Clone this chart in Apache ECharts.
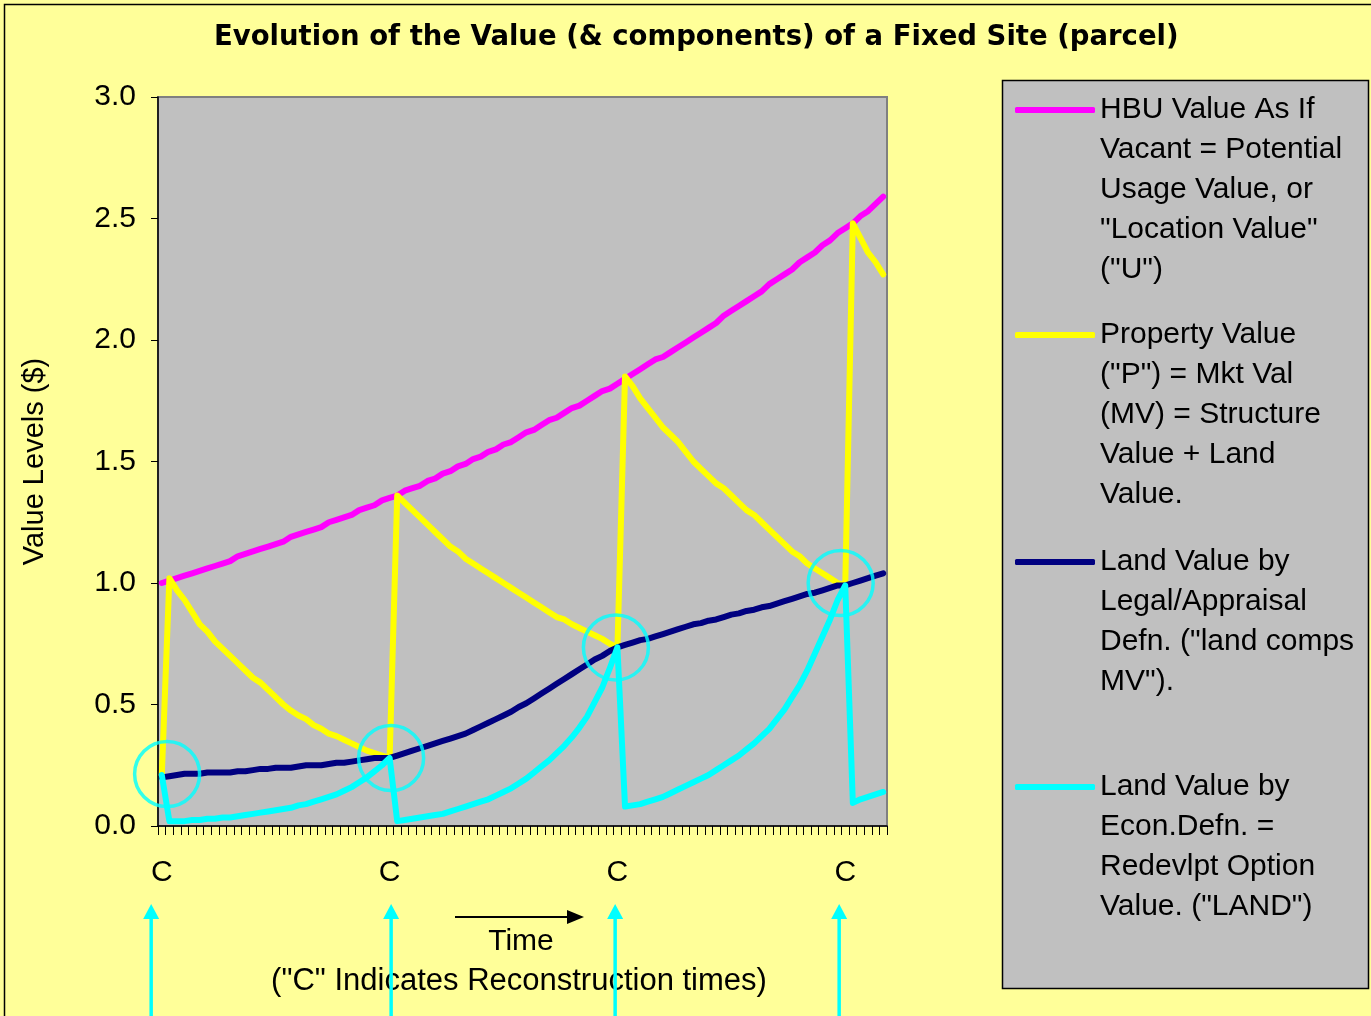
<!DOCTYPE html>
<html>
<head>
<meta charset="utf-8">
<script src="https://cdn.jsdelivr.net/npm/echarts@6/dist/echarts.min.js"></script>
<style>
html,body{margin:0;padding:0;background:#FFFF99;}
#chart{width:1371px;height:1016px;}
</style>
</head>
<body>
<div id="chart"></div>
<script>
// ---------------- DATA ----------------
const periods = Array.from({length: 96}, (_, i) => i);      // time periods (categories)
const reconstructionPeriods = [0, 30, 60, 90];             // "C" tick labels
const reconstructionLabel = 'C';
const yTicks = [0, 0.5, 1.0, 1.5, 2.0, 2.5, 3.0];

const hbuValue = [
  1.00, 1.01, 1.02, 1.03, 1.04, 1.05, 1.06, 1.07, 1.08, 1.09,
  1.11, 1.12, 1.13, 1.14, 1.15, 1.16, 1.17, 1.19, 1.20, 1.21,
  1.22, 1.23, 1.25, 1.26, 1.27, 1.28, 1.30, 1.31, 1.32, 1.34,
  1.35, 1.36, 1.38, 1.39, 1.40, 1.42, 1.43, 1.45, 1.46, 1.48,
  1.49, 1.51, 1.52, 1.54, 1.55, 1.57, 1.58, 1.60, 1.62, 1.63,
  1.65, 1.67, 1.68, 1.70, 1.72, 1.73, 1.75, 1.77, 1.79, 1.80,
  1.82, 1.84, 1.86, 1.88, 1.90, 1.92, 1.93, 1.95, 1.97, 1.99,
  2.01, 2.03, 2.05, 2.07, 2.10, 2.12, 2.14, 2.16, 2.18, 2.20,
  2.23, 2.25, 2.27, 2.29, 2.32, 2.34, 2.36, 2.39, 2.41, 2.44,
  2.46, 2.48, 2.51, 2.53, 2.56, 2.59
];
const propertyValue = [
  0.21,
  1.02, 0.97, 0.93, 0.88, 0.83, 0.80, 0.76, 0.73, 0.70, 0.67,
  0.64, 0.61, 0.59, 0.56, 0.53, 0.50, 0.475, 0.455, 0.44, 0.415,
  0.40, 0.38, 0.37, 0.355, 0.34, 0.325, 0.31, 0.30, 0.29, 0.28,
  1.36, 1.33, 1.30, 1.27, 1.24, 1.21, 1.18, 1.15, 1.13, 1.10,
  1.08, 1.06, 1.04, 1.02, 1.00, 0.98, 0.96, 0.94, 0.92, 0.90,
  0.88, 0.86, 0.85, 0.83, 0.815, 0.80, 0.785, 0.77, 0.75, 0.735,
  1.85, 1.81, 1.76, 1.72, 1.68, 1.64, 1.61, 1.58, 1.54, 1.50,
  1.47, 1.44, 1.41, 1.39, 1.36, 1.33, 1.30, 1.28, 1.25, 1.22,
  1.19, 1.16, 1.13, 1.11, 1.08, 1.06, 1.04, 1.02, 1.00, 0.99,
  2.48, 2.42, 2.36, 2.32, 2.27
];
const landLegal = [
  0.20, 0.205, 0.21, 0.215, 0.215, 0.215, 0.22, 0.22, 0.22, 0.22,
  0.225, 0.225, 0.23, 0.235, 0.235, 0.24, 0.24, 0.24, 0.245, 0.25,
  0.25, 0.25, 0.255, 0.26, 0.26, 0.265, 0.27, 0.275, 0.28, 0.28,
  0.28, 0.29, 0.30, 0.31, 0.32, 0.33, 0.34, 0.35, 0.36, 0.37,
  0.38, 0.395, 0.41, 0.425, 0.44, 0.455, 0.47, 0.49, 0.505, 0.525,
  0.545, 0.565, 0.585, 0.605, 0.625, 0.645, 0.665, 0.685, 0.70, 0.72,
  0.735, 0.745, 0.755, 0.765, 0.77, 0.78, 0.79, 0.80, 0.81, 0.82,
  0.83, 0.835, 0.845, 0.85, 0.86, 0.87, 0.875, 0.885, 0.89, 0.90,
  0.905, 0.915, 0.925, 0.935, 0.945, 0.955, 0.96, 0.97, 0.98, 0.99,
  0.99, 1.00, 1.01, 1.02, 1.03, 1.04
];
const landEcon = [
  0.21,
  0.02, 0.02, 0.02, 0.025, 0.025, 0.03, 0.03, 0.035, 0.035, 0.04,
  0.045, 0.05, 0.055, 0.06, 0.065, 0.07, 0.075, 0.085, 0.09, 0.10,
  0.11, 0.12, 0.13, 0.145, 0.16, 0.18, 0.20, 0.225, 0.25, 0.28,
  0.02, 0.025, 0.03, 0.035, 0.04, 0.045, 0.05, 0.06, 0.07, 0.08,
  0.09, 0.10, 0.11, 0.125, 0.14, 0.155, 0.175, 0.195, 0.22, 0.245,
  0.27, 0.30, 0.33, 0.365, 0.405, 0.45, 0.51, 0.57, 0.65, 0.735,
  0.08, 0.085, 0.09, 0.10, 0.11, 0.12, 0.135, 0.15, 0.165, 0.18,
  0.195, 0.21, 0.23, 0.25, 0.27, 0.29, 0.315, 0.34, 0.37, 0.40,
  0.44, 0.48, 0.53, 0.58, 0.64, 0.71, 0.78, 0.85, 0.93, 0.99,
  0.095, 0.11, 0.12, 0.13, 0.14
];
// highlighted reconstruction moments (circles) – position in periods, value level
const circlePeriods = [0.7, 30.2, 59.8, 89.4];
const circleLevels = [0.214, 0.28, 0.735, 1.0];
// arrows under the "C" labels (position in periods)
const arrowPeriods = [-1.4, 30.2, 59.7, 89.2];

const seriesNames = ['HBU Value', 'Property Value', 'Land Value Legal', 'Land Value Econ'];
const legendTexts = [
  'HBU Value As If\nVacant = Potential\nUsage Value, or\n"Location Value"\n("U")',
  'Property Value\n("P") = Mkt Val\n(MV) = Structure\nValue + Land\nValue.',
  'Land Value by\nLegal/Appraisal\nDefn. ("land comps\nMV").',
  'Land Value by\nEcon.Defn. =\nRedevlpt Option\nValue. ("LAND")'
];
const seriesColors = ['#FF00FF', '#FFFF00', '#000080', '#00FFFF'];
const titleText = 'Evolution of the Value (& components) of a Fixed Site (parcel)';
const yAxisName = 'Value Levels ($)';
const timeText = 'Time';
const noteText = '("C" Indicates Reconstruction times)';

// ---------------- CHART ----------------
const FONT = 'Liberation Sans, Arial, sans-serif';
const chart = echarts.init(document.getElementById('chart'), null, {renderer: 'canvas'});

const seriesValues = [hbuValue, propertyValue, landLegal, landEcon];
const lineSeries = seriesValues.map((vals, k) => ({
  name: seriesNames[k],
  type: 'line',
  xAxisIndex: 0,
  yAxisIndex: 0,
  data: vals,
  showSymbol: false,
  symbol: 'none',
  smooth: false,
  z: 2 + k * 0.1,
  lineStyle: {color: seriesColors[k], width: 6, cap: 'round', join: 'round'},
  itemStyle: {color: seriesColors[k]}
}));

// legend: one component per entry, icon aligned with the first text line.
// (n-1) blank lines are prepended so that the first real line sits at the icon's centre.
const LH = 40;
const legendIconY = [108, 333, 560, 785];
const legends = legendTexts.map((txt, k) => {
  const n = txt.split('\n').length;
  const padded = '\n'.repeat(n - 1) + txt;
  return {
    show: true,
    orient: 'vertical',
    left: 1015,
    top: legendIconY[k] - (LH * n - LH / 2) + 2,
    padding: 0,
    itemWidth: 80,
    itemHeight: 6,
    icon: 'roundRect',
    selectedMode: false,
    data: [{name: seriesNames[k], itemStyle: {color: seriesColors[k]}}],
    formatter: () => padded,
    textStyle: {fontFamily: FONT, fontSize: 30, color: '#000', lineHeight: LH}
  };
});

const option = {
  animation: false,
  backgroundColor: '#FFFF99',
  title: {
    text: titleText,
    left: 214,
    top: 24,
    padding: 0,
    textStyle: {fontFamily: 'DejaVu Sans', fontWeight: 'bold', fontSize: 27.5, color: '#000'}
  },
  legend: legends,
  grid: {
    left: 158, right: 484, top: 97, bottom: 190,
    containLabel: false,
    outerBoundsMode: 'none',
    show: true,
    backgroundColor: '#C0C0C0',
    borderColor: '#808080',
    borderWidth: 2
  },
  xAxis: [{
    type: 'category',
    data: periods,
    boundaryGap: true,
    axisLine: {onZero: false, lineStyle: {color: '#000', width: 1.5}},
    axisTick: {show: true, interval: 0, length: 9, lineStyle: {color: '#000', width: 1}},
    axisLabel: {
      interval: (idx) => reconstructionPeriods.includes(idx),
      formatter: () => reconstructionLabel,
      margin: 32,
      fontFamily: FONT, fontSize: 30, color: '#000'
    },
    splitLine: {show: false}
  }, {
    type: 'value',
    min: -0.5,
    max: 95.5,
    show: false,
    gridIndex: 0
  }],
  yAxis: {
    type: 'value',
    min: yTicks[0],
    max: yTicks[yTicks.length - 1],
    interval: 0.5,
    name: yAxisName,
    nameLocation: 'middle',
    nameGap: 109,
    nameRotate: 90,
    nameTextStyle: {fontFamily: FONT, fontSize: 29, color: '#000'},
    axisLine: {show: true, onZero: false, lineStyle: {color: '#000', width: 1.5}},
    axisTick: {show: true, length: 7, lineStyle: {color: '#000'}},
    axisLabel: {
      formatter: (v) => v.toFixed(1),
      margin: 22,
      fontFamily: FONT, fontSize: 30, color: '#000'
    },
    splitLine: {show: false}
  },
  graphic: [
    {type: 'rect', z: -1, shape: {x: 4.5, y: 4.5, width: 1420, height: 1100},
     style: {fill: 'none', stroke: '#000', lineWidth: 1.5}},
    {type: 'rect', z: 0, shape: {x: 1002.5, y: 80.5, width: 366, height: 908},
     style: {fill: '#C0C0C0', stroke: '#000', lineWidth: 1.5}},
    {type: 'line', z: 0, shape: {x1: 455, y1: 917, x2: 570, y2: 917},
     style: {stroke: '#000', lineWidth: 2}},
    {type: 'polygon', z: 0, shape: {points: [[584, 917], [567, 910], [567, 924]]},
     style: {fill: '#000'}},
    {type: 'text', z: 0, x: 521, y: 942,
     style: {text: timeText, font: '30px ' + FONT, fill: '#000', align: 'center', verticalAlign: 'middle',
             textAlign: 'center', textVerticalAlign: 'middle'}},
    {type: 'text', z: 0, x: 519, y: 981,
     style: {text: noteText, font: '31px ' + FONT, fill: '#000', align: 'center', verticalAlign: 'middle',
             textAlign: 'center', textVerticalAlign: 'middle'}}
  ],
  series: lineSeries.concat([
    {
      name: 'reconstruction circles',
      type: 'scatter',
      xAxisIndex: 1,
      yAxisIndex: 0,
      data: circlePeriods.map((p, i) => [p, circleLevels[i]]),
      symbol: 'circle',
      symbolSize: 65,
      silent: true,
      z: 5,
      itemStyle: {color: 'rgba(0,0,0,0)', borderColor: '#00FFFF', borderWidth: 3.5}
    },
    {
      name: 'reconstruction arrows',
      type: 'custom',
      xAxisIndex: 1,
      yAxisIndex: 0,
      clip: false,
      silent: true,
      z: 6,
      data: arrowPeriods.map(p => [p, 0]),
      renderItem: (params, api) => {
        const pt = api.coord([api.value(0), 0]);
        const x = pt[0];
        const tip = pt[1] + 78;
        const headBase = tip + 15;
        return {
          type: 'group',
          children: [
            {type: 'line', shape: {x1: x, y1: headBase - 1, x2: x, y2: pt[1] + 260},
             style: {stroke: '#00FFFF', lineWidth: 3.5}},
            {type: 'polygon', shape: {points: [[x, tip], [x - 8, headBase], [x + 8, headBase]]},
             style: {fill: '#00FFFF'}}
          ]
        };
      }
    }
  ])
};
chart.setOption(option);
</script>
</body>
</html>
